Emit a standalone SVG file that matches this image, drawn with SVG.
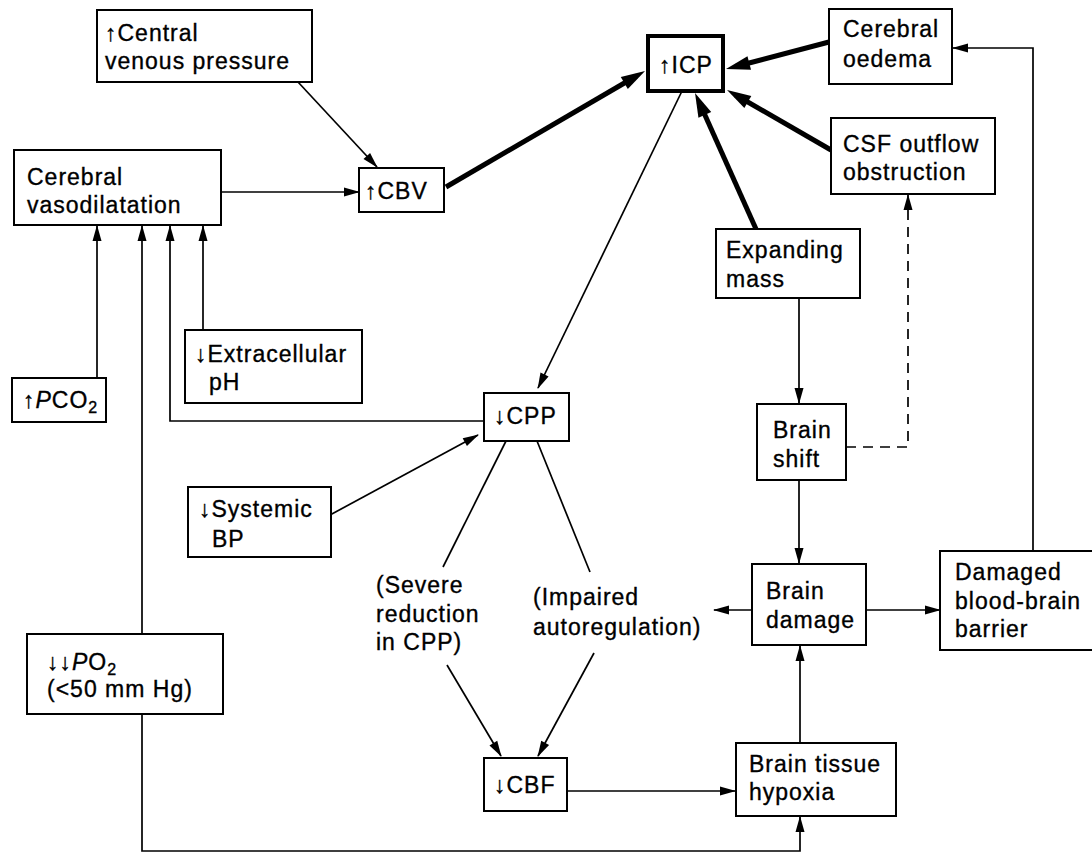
<svg xmlns="http://www.w3.org/2000/svg" width="1092" height="853" viewBox="0 0 1092 853">
<style>
text{font-family:"Liberation Sans",Arial,sans-serif;font-size:23px;letter-spacing:1px;fill:#000;stroke:#000;stroke-width:0.35px}
.box{fill:#fff;stroke:#000;stroke-width:2}
.thin{fill:none;stroke:#000;stroke-width:1.7;marker-end:url(#ah)}
.line{fill:none;stroke:#000;stroke-width:1.7}
.thick{fill:none;stroke:#000;stroke-width:5;marker-end:url(#ahb)}
.dash{stroke-dasharray:10 7}
.sub{font-size:16px}
</style>
<defs>
<marker id="ah" markerUnits="userSpaceOnUse" markerWidth="16" markerHeight="10" refX="15" refY="5" orient="auto" overflow="visible">
<path d="M0,0.5 L16,5 L0,9.5 z" fill="#000"/>
</marker>
<marker id="ahb" markerUnits="userSpaceOnUse" markerWidth="24" markerHeight="14" refX="14" refY="7" orient="auto" overflow="visible">
<path d="M0,0 L24,7 L0,14 z" fill="#000"/>
</marker>
</defs>
<rect width="1092" height="853" fill="#fff"/>
<g id="connectors">
<line class="thin" x1="298" y1="82" x2="377" y2="167"/>
<line class="thin" x1="221" y1="192" x2="359" y2="192"/>
<line class="thick" x1="446" y1="187" x2="636.4" y2="76"/>
<line class="thick" x1="829" y1="42" x2="735.7" y2="66.5"/>
<line class="thick" x1="831" y1="150" x2="735.7" y2="95"/>
<line class="thick" x1="756" y1="229" x2="699.1" y2="102.1"/>
<line class="thin" x1="682" y1="91" x2="538" y2="388"/>
<line class="thin" x1="799" y1="298" x2="799" y2="403"/>
<polyline class="thin dash" points="846,447 908,447 908,195"/>
<line class="thin" x1="799" y1="480" x2="799" y2="563"/>
<line class="thin" x1="752" y1="610" x2="714" y2="610"/>
<line class="thin" x1="866" y1="610" x2="940" y2="610"/>
<polyline class="thin" points="1033,551 1033,48 953,48"/>
<line class="thin" x1="800" y1="743" x2="800" y2="646"/>
<line class="thin" x1="567" y1="791" x2="735" y2="791"/>
<polyline class="thin" points="142,714 142,851 800,851 800,817"/>
<line class="thin" x1="142" y1="634" x2="142" y2="226"/>
<line class="thin" x1="97" y1="378" x2="97" y2="226"/>
<line class="thin" x1="203" y1="330" x2="203" y2="226"/>
<polyline class="thin" points="484,421 170,421 170,226"/>
<line class="thin" x1="330" y1="515" x2="478" y2="435"/>
<line class="line" x1="506" y1="441" x2="443" y2="567"/>
<line class="line" x1="537" y1="441" x2="590" y2="572"/>
<line class="thin" x1="447" y1="665" x2="501" y2="756"/>
<line class="thin" x1="594" y1="653" x2="538" y2="756"/>
</g>
<g id="cvp">
<rect class="box" x="97" y="10" width="215" height="72"/>
<text x="105" y="41">↑Central</text>
<text x="105" y="69">venous pressure</text>
</g>
<g id="vasodilatation">
<rect class="box" x="14" y="150" width="207" height="75"/>
<text x="27" y="185">Cerebral</text>
<text x="27" y="213">vasodilatation</text>
</g>
<g id="cbv">
<rect class="box" x="359" y="168" width="85" height="44"/>
<text x="365" y="199">↑CBV</text>
</g>
<g id="icp">
<rect class="box" x="648" y="36" width="75" height="55" style="stroke-width:4"/>
<text x="659" y="73">↑ICP</text>
</g>
<g id="oedema">
<rect class="box" x="829" y="9" width="123" height="75"/>
<text x="843" y="37">Cerebral</text>
<text x="843" y="67">oedema</text>
</g>
<g id="csf">
<rect class="box" x="831" y="118" width="164" height="76"/>
<text x="843" y="152">CSF outflow</text>
<text x="843" y="180">obstruction</text>
</g>
<g id="mass">
<rect class="box" x="716" y="229" width="144" height="69"/>
<text x="726" y="258">Expanding</text>
<text x="726" y="287">mass</text>
</g>
<g id="pco2">
<rect class="box" x="12" y="378" width="94" height="44"/>
<text x="23" y="408">↑<tspan font-style="italic">P</tspan>CO<tspan class="sub" dy="5">2</tspan></text>
</g>
<g id="ph">
<rect class="box" x="185" y="330" width="177" height="73"/>
<text x="195" y="362">↓Extracellular</text>
<text x="209" y="390">pH</text>
</g>
<g id="cpp">
<rect class="box" x="484" y="393" width="85" height="48"/>
<text x="494" y="424">↓CPP</text>
</g>
<g id="systemic">
<rect class="box" x="188" y="487" width="143" height="70"/>
<text x="199" y="517">↓Systemic</text>
<text x="212" y="547">BP</text>
</g>
<g id="shift">
<rect class="box" x="757" y="404" width="89" height="76"/>
<text x="773" y="438">Brain</text>
<text x="773" y="467">shift</text>
</g>
<g id="severe">
<text x="376" y="593">(Severe</text>
<text x="376" y="622">reduction</text>
<text x="376" y="650">in CPP)</text>
</g>
<g id="impaired">
<text x="533" y="605">(Impaired</text>
<text x="533" y="635">autoregulation)</text>
</g>
<g id="damage">
<rect class="box" x="752" y="564" width="114" height="81"/>
<text x="766" y="599">Brain</text>
<text x="766" y="628">damage</text>
</g>
<g id="bbb">
<rect class="box" x="940" y="551" width="160" height="99"/>
<text x="955" y="580">Damaged</text>
<text x="955" y="609">blood-brain</text>
<text x="955" y="637">barrier</text>
</g>
<g id="po2">
<rect class="box" x="27" y="634" width="196" height="80"/>
<text x="47" y="670">↓↓<tspan font-style="italic">P</tspan>O<tspan class="sub" dy="5">2</tspan></text>
<text x="47" y="697">(&lt;50 mm Hg)</text>
</g>
<g id="cbf">
<rect class="box" x="484" y="758" width="83" height="53"/>
<text x="494" y="793">↓CBF</text>
</g>
<g id="hypoxia">
<rect class="box" x="736" y="743" width="160" height="73"/>
<text x="749" y="772">Brain tissue</text>
<text x="749" y="800">hypoxia</text>
</g>
</svg>
